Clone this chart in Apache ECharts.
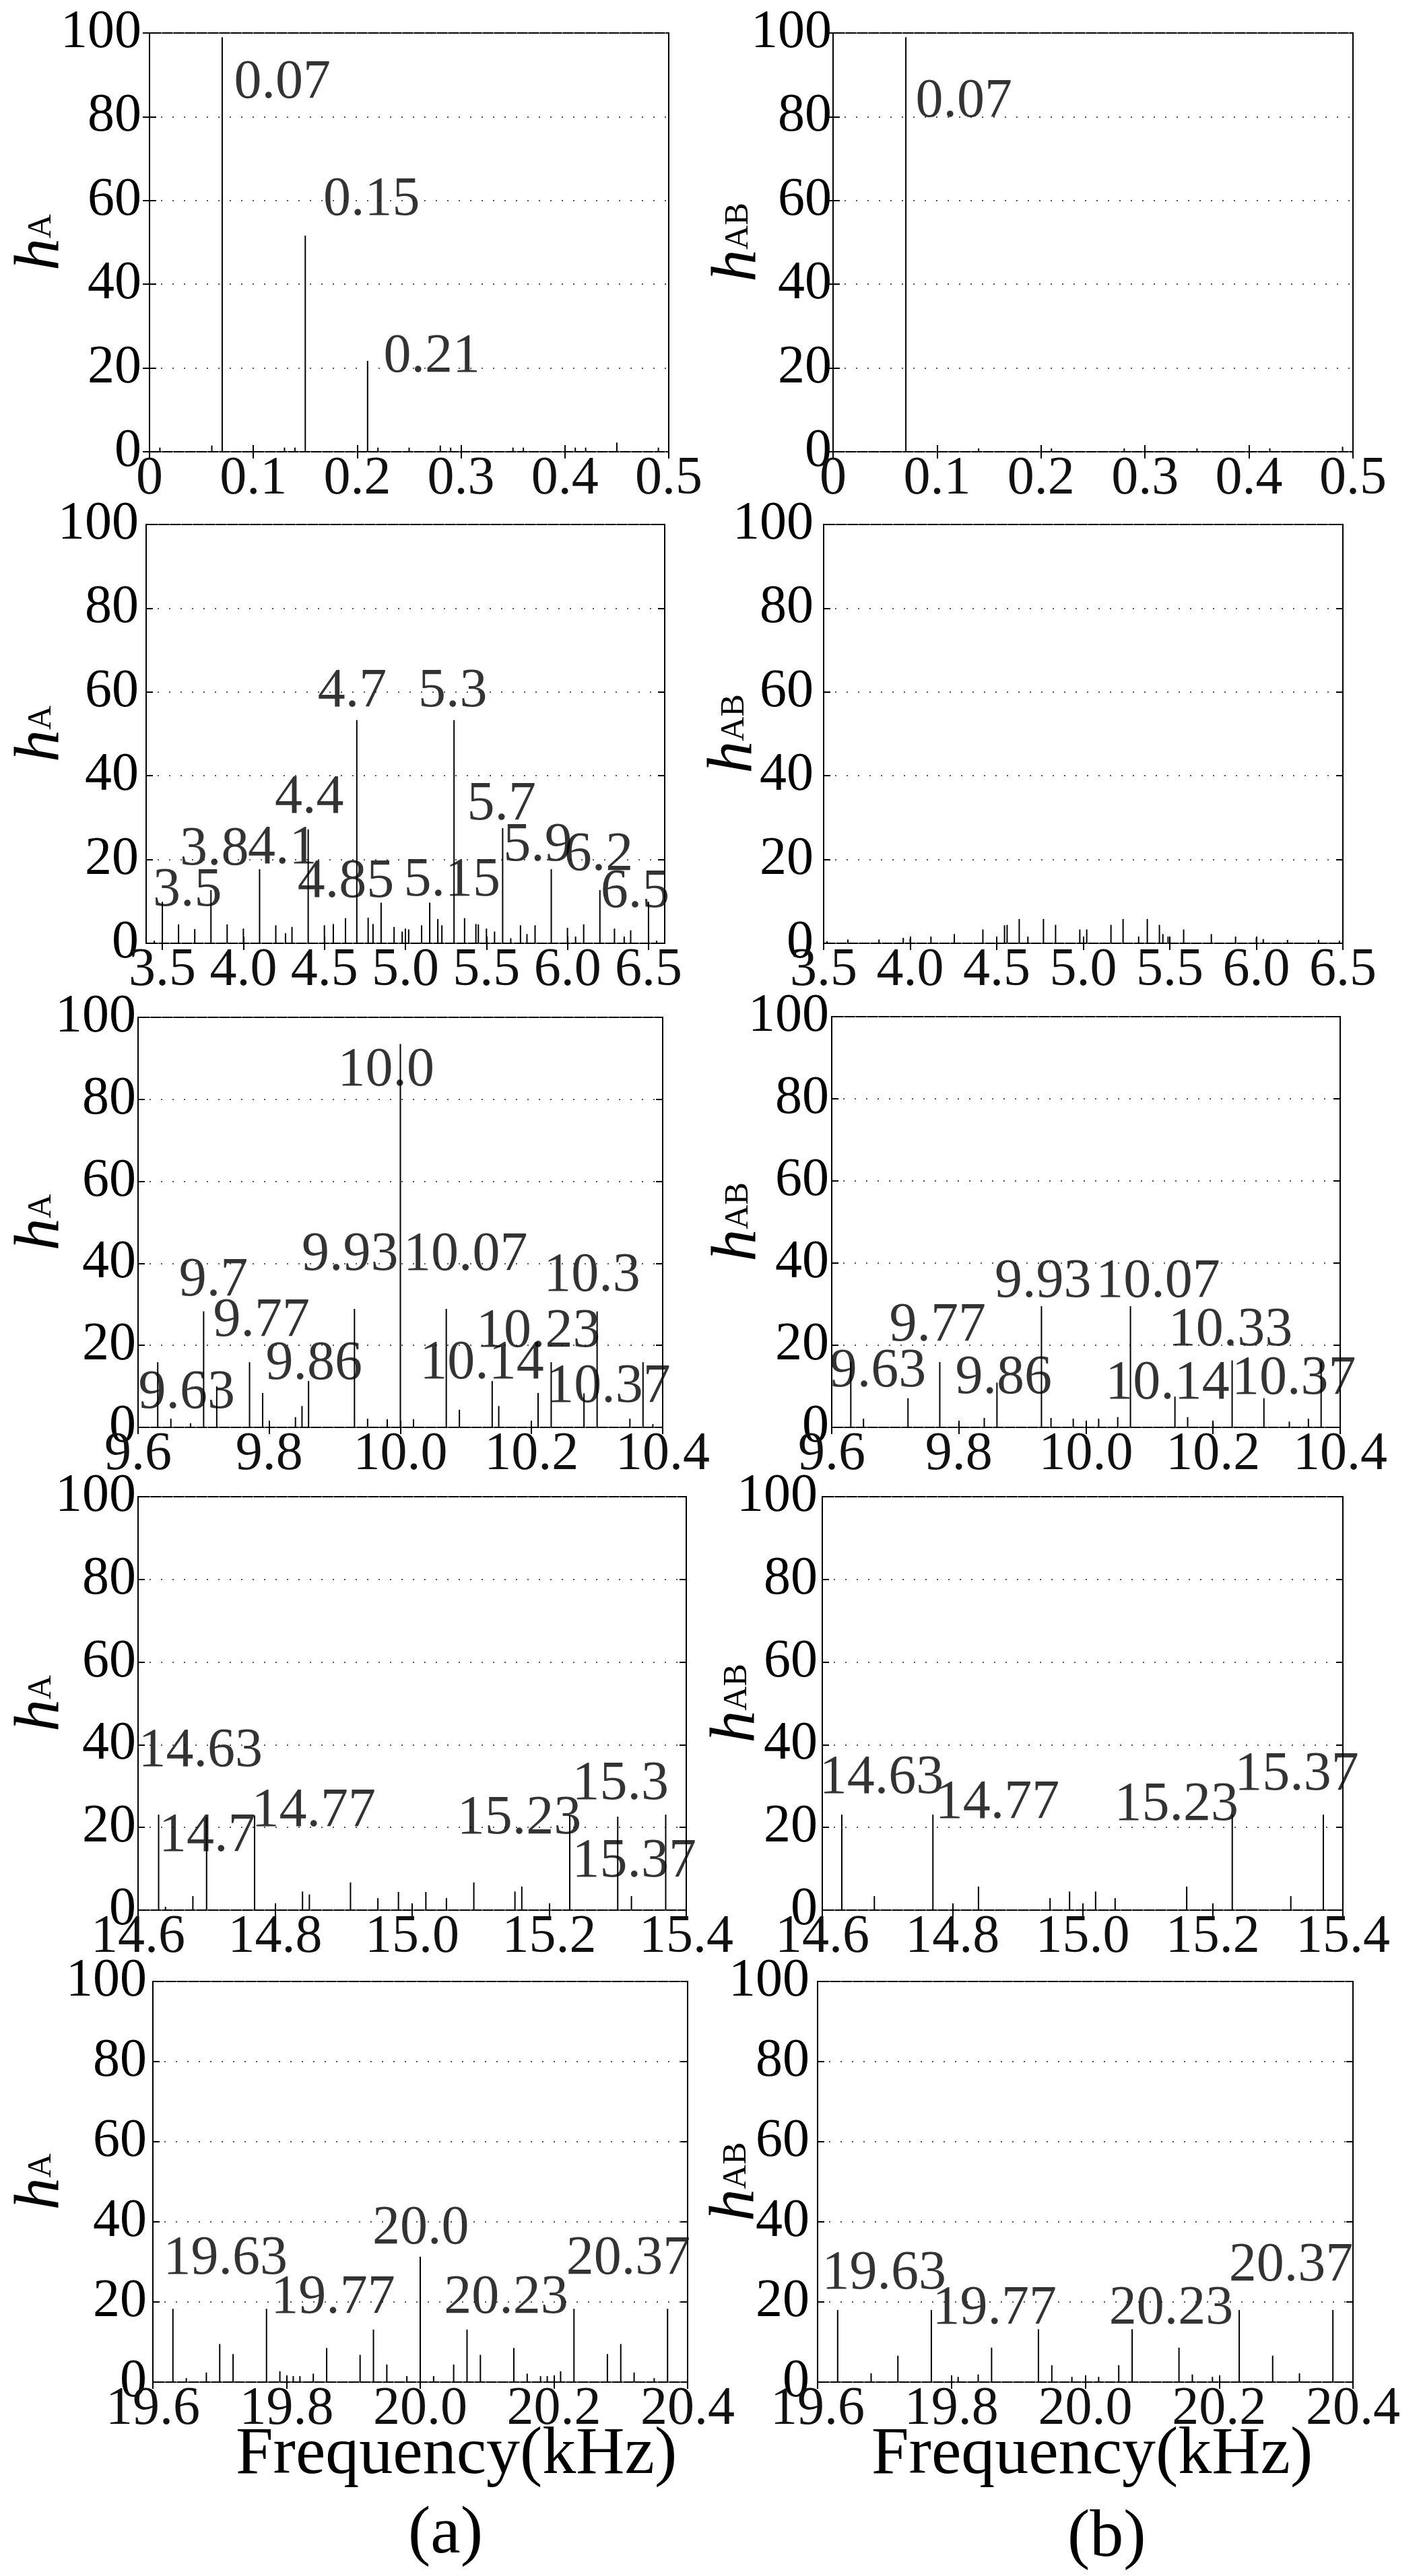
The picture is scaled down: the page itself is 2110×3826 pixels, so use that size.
<!DOCTYPE html>
<html>
<head>
<meta charset="utf-8">
<script src="https://cdn.jsdelivr.net/npm/echarts@6/dist/echarts.min.js"></script>
<style>
html,body{margin:0;padding:0;background:#fff;overflow:hidden;}
#chart{width:2110px;height:3826px;}
</style>
</head>
<body>
<div id="chart"></div>
<script>
// ---------------- DATA ----------------
// x tick values and labels per row
const ticksRow1 = [0, 0.1, 0.2, 0.3, 0.4, 0.5];
const tickLabelsRow1 = ['0', '0.1', '0.2', '0.3', '0.4', '0.5'];
const ticksRow2 = [3.5, 4.0, 4.5, 5.0, 5.5, 6.0, 6.5];
const tickLabelsRow2 = ['3.5', '4.0', '4.5', '5.0', '5.5', '6.0', '6.5'];
const ticksRow3 = [9.6, 9.8, 10.0, 10.2, 10.4];
const tickLabelsRow3 = ['9.6', '9.8', '10.0', '10.2', '10.4'];
const ticksRow4 = [14.6, 14.8, 15.0, 15.2, 15.4];
const tickLabelsRow4 = ['14.6', '14.8', '15.0', '15.2', '15.4'];
const ticksRow5 = [19.6, 19.8, 20.0, 20.2, 20.4];
const tickLabelsRow5 = ['19.6', '19.8', '20.0', '20.2', '20.4'];
const yTicks = [0, 20, 40, 60, 80, 100];

// (a) h_A spectra
const a1Freq = [0.01, 0.06, 0.07, 0.13, 0.14, 0.15, 0.21, 0.22, 0.25, 0.28, 0.29, 0.35, 0.36, 0.41, 0.42, 0.45, 0.49];
const a1Amp  = [1, 1.5, 99, 1, 1, 51.6, 21.7, 1, 1, 1.5, 1, 1, 1, 1, 1, 2.2, 1];
const a2Freq = [3.45, 3.5, 3.6, 3.7, 3.8, 3.9, 4.0, 4.1, 4.2, 4.26, 4.3, 4.4, 4.5, 4.555, 4.63, 4.7, 4.77, 4.8, 4.85, 4.93, 4.98, 5.0, 5.02, 5.1, 5.15, 5.2, 5.225, 5.3, 5.365, 5.435, 5.45, 5.5, 5.55, 5.6, 5.65, 5.71, 5.75, 5.8, 5.9, 6.0, 6.05, 6.1, 6.2, 6.29, 6.35, 6.39, 6.5, 6.55];
const a2Amp  = [0.6, 9.9, 4.5, 3.4, 12.7, 4.5, 3.5, 17.7, 4.3, 2.4, 3.9, 27.2, 4.3, 4.6, 6.0, 53.3, 6.1, 4.6, 9.7, 3.9, 2.8, 3.5, 3.3, 4.3, 9.7, 5.8, 4.3, 53.3, 6.0, 4.6, 4.5, 3.5, 2.8, 27.5, 1.2, 4.3, 2.2, 4.3, 17.7, 3.7, 1.6, 4.5, 12.7, 3.5, 1.6, 3.1, 9.9, 0.6];
const a3Freq = [9.63, 9.65, 9.68, 9.70, 9.72, 9.77, 9.79, 9.84, 9.85, 9.86, 9.93, 9.95, 9.98, 10.0, 10.02, 10.07, 10.09, 10.14, 10.15, 10.21, 10.23, 10.28, 10.30, 10.35, 10.37, 10.385];
const a3Amp  = [15.9, 2.1, 1.0, 28.3, 10.0, 15.9, 8.4, 2.5, 5.2, 11.3, 28.9, 2.1, 2.0, 93.5, 2.0, 28.9, 4.3, 11.3, 5.2, 8.4, 15.9, 8.3, 28.3, 2.1, 15.9, 0.8];
const a4Freq = [14.63, 14.64, 14.68, 14.70, 14.77, 14.84, 14.85, 14.91, 14.95, 14.98, 15.02, 15.05, 15.09, 15.15, 15.16, 15.23, 15.30, 15.32, 15.37];
const a4Amp  = [23.1, 0.8, 3.4, 22.6, 22.9, 4.5, 3.8, 6.7, 2.9, 4.4, 4.4, 2.9, 6.7, 4.5, 5.7, 22.9, 22.6, 3.4, 23.1];
const a5Freq = [19.63, 19.65, 19.68, 19.70, 19.72, 19.77, 19.79, 19.81, 19.82, 19.84, 19.86, 19.91, 19.93, 19.95, 19.98, 20.0, 20.02, 20.05, 20.07, 20.09, 20.14, 20.16, 20.18, 20.19, 20.21, 20.23, 20.28, 20.30, 20.32, 20.35, 20.37];
const a5Amp  = [18.3, 1.0, 2.4, 9.5, 7.0, 18.3, 2.7, 1.5, 1.5, 2.1, 8.5, 6.8, 13.1, 4.4, 1.5, 31.3, 1.5, 4.4, 13.1, 6.8, 8.5, 2.1, 1.5, 1.5, 2.7, 18.3, 7.0, 9.5, 2.4, 1.0, 18.3];

// (b) h_AB spectra
const b1Freq = [0.07, 0.14, 0.21, 0.28, 0.35, 0.42, 0.49];
const b1Amp  = [99, 0.8, 0.8, 0.8, 0.8, 0.8, 1.2];
const b2Freq = [3.52, 3.64, 3.82, 3.96, 4.0, 4.12, 4.255, 4.42, 4.5, 4.545, 4.56, 4.63, 4.68, 4.77, 4.84, 4.98, 5.02, 5.16, 5.23, 5.32, 5.37, 5.44, 5.46, 5.49, 5.58, 5.74, 5.88, 6.0, 6.04, 6.18, 6.36, 6.48];
const b2Amp  = [0.5, 0.9, 0.9, 1.3, 1.1, 1.6, 2.2, 3.3, 1.0, 4.3, 4.4, 5.8, 1.6, 5.8, 4.4, 3.3, 3.3, 4.4, 5.8, 1.6, 5.8, 4.4, 2.2, 1.6, 3.3, 2.2, 1.6, 1.3, 1.0, 0.8, 0.8, 0.6];
const b3Freq = [9.63, 9.65, 9.72, 9.77, 9.80, 9.84, 9.86, 9.93, 9.945, 9.98, 10.02, 10.05, 10.07, 10.14, 10.16, 10.20, 10.23, 10.28, 10.32, 10.35, 10.37];
const b3Amp  = [15.9, 2.1, 7.1, 15.9, 1.0, 2.3, 10.9, 29.5, 2.3, 2.1, 2.1, 2.5, 29.5, 7.5, 2.5, 1.0, 16.3, 7.1, 1.4, 2.1, 15.9];
const b4Freq = [14.63, 14.68, 14.77, 14.84, 14.95, 14.98, 15.02, 15.05, 15.16, 15.23, 15.32, 15.37];
const b4Amp  = [23.1, 3.4, 23.1, 5.7, 2.9, 4.5, 4.5, 2.9, 5.7, 23.1, 3.4, 23.1];
const b5Freq = [19.63, 19.68, 19.72, 19.77, 19.81, 19.84, 19.86, 19.93, 19.95, 19.98, 20.02, 20.05, 20.07, 20.14, 20.16, 20.19, 20.23, 20.28, 20.32, 20.37];
const b5Amp  = [18.0, 2.2, 6.6, 18.0, 1.3, 1.9, 8.6, 13.2, 4.2, 1.3, 1.3, 4.2, 13.2, 8.6, 1.9, 1.3, 18.0, 6.6, 2.2, 18.0];

// peak annotations: [text, x (left edge), y (centre)] in data units
const a1Notes = [['0.07', 0.081, 88], ['0.15', 0.167, 60], ['0.21', 0.225, 22.6]];
const b1Notes = [['0.07', 0.079, 83.5]];
const a2Notes = [['3.5', 3.439, 12.5], ['3.8', 3.606, 22.2], ['4.1', 4.025, 22.6], ['4.4', 4.192, 34.6], ['4.7', 4.457, 60], ['4.85', 4.332, 14.5], ['5.15', 4.988, 14.9], ['5.3', 5.077, 60.1], ['5.7', 5.378, 33], ['5.9', 5.602, 23.3], ['6.2', 5.978, 21], ['6.5', 6.202, 12.1]];
const b2Notes = [];
const a3Notes = [['9.63', 9.6, 8.3], ['9.7', 9.662, 35.8], ['9.77', 9.714, 25.8], ['9.86', 9.794, 15.3], ['9.93', 9.849, 41.9], ['10.0', 9.904, 87], ['10.07', 10.004, 41.9], ['10.3', 10.218, 36.9], ['10.23', 10.115, 23.2], ['10.14', 10.029, 15.5], ['10.37', 10.222, 9.8]];
const b3Notes = [['9.63', 9.596, 13.6], ['9.77', 9.69, 24.7], ['9.86', 9.794, 11.9], ['9.93', 9.856, 35.3], ['10.07', 10.015, 35.3], ['10.33', 10.129, 23.5], ['10.14', 10.03, 10.5], ['10.37', 10.229, 11.7]];
const a4Notes = [['14.63', 14.6, 38.3], ['14.7', 14.63, 17.8], ['14.77', 14.765, 23.9], ['15.23', 15.065, 22], ['15.3', 15.233, 30.3], ['15.37', 15.233, 11.7]];
const b4Notes = [['14.63', 14.595, 31.8], ['14.77', 14.773, 25.8], ['15.23', 15.048, 25.4], ['15.37', 15.233, 32.6]];
const a5Notes = [['19.63', 19.615, 30.6], ['19.77', 19.776, 20.9], ['20.0', 19.928, 38.3], ['20.23', 20.035, 20.9], ['20.37', 20.218, 30.6]];
const b5Notes = [['19.63', 19.606, 27], ['19.77', 19.771, 18.3], ['20.23', 20.035, 18.3], ['20.37', 20.214, 29]];

// ---------------- LAYOUT ----------------
const FONT = '"Liberation Serif", "Times New Roman", serif';
const TICK_FS = 80, NOTE_FS = 82;
const panels = [
  {freq:a1Freq, amp:a1Amp, notes:a1Notes, ticks:ticksRow1, labels:tickLabelsRow1, min:0, max:0.5, sub:'A', grid:[222,49,771,622], ym:12, gap:112},
  {freq:b1Freq, amp:b1Amp, notes:b1Notes, ticks:ticksRow1, labels:tickLabelsRow1, min:0, max:0.5, sub:'AB', grid:[1237,49,772,622], ym:2, gap:92},
  {freq:a2Freq, amp:a2Amp, notes:a2Notes, ticks:ticksRow2, labels:tickLabelsRow2, min:3.4, max:6.6, sub:'A', grid:[217,779,770,622], ym:11, gap:107},
  {freq:b2Freq, amp:b2Amp, notes:b2Notes, ticks:ticksRow2, labels:tickLabelsRow2, min:3.5, max:6.5, sub:'AB', grid:[1223,779,771,622], ym:15, gap:84},
  {freq:a3Freq, amp:a3Amp, notes:a3Notes, ticks:ticksRow3, labels:tickLabelsRow3, min:9.6, max:10.4, sub:'A', grid:[205,1511,779,609], ym:3, gap:95},
  {freq:b3Freq, amp:b3Amp, notes:b3Notes, ticks:ticksRow3, labels:tickLabelsRow3, min:9.6, max:10.4, sub:'AB', grid:[1235,1510,755,610], ym:4, gap:90},
  {freq:a4Freq, amp:a4Amp, notes:a4Notes, ticks:ticksRow4, labels:tickLabelsRow4, min:14.6, max:15.4, sub:'A', grid:[205,2223,814,614], ym:3, gap:95},
  {freq:b4Freq, amp:b4Amp, notes:b4Notes, ticks:ticksRow4, labels:tickLabelsRow4, min:14.6, max:15.4, sub:'AB', grid:[1221,2223,773,614], ym:7, gap:78},
  {freq:a5Freq, amp:a5Amp, notes:a5Notes, ticks:ticksRow5, labels:tickLabelsRow5, min:19.6, max:20.4, sub:'A', grid:[227,2943,794,595], ym:9, gap:117},
  {freq:b5Freq, amp:b5Amp, notes:b5Notes, ticks:ticksRow5, labels:tickLabelsRow5, min:19.6, max:20.4, sub:'AB', grid:[1214,2943,795,595], ym:12, gap:72}
];

const grids = [], xAxes = [], yAxes = [], series = [];
panels.forEach((p, i) => {
  grids.push({left:p.grid[0], top:p.grid[1], width:p.grid[2], height:p.grid[3], show:true, borderColor:'#000', borderWidth:2, backgroundColor:'#fff', containLabel:false});
  const fmt = v => { const k = p.ticks.findIndex(t => Math.abs(t - v) < 1e-6); return k >= 0 ? p.labels[k] : ''; };
  xAxes.push({gridIndex:i, type:'value', min:p.min, max:p.max, position:'bottom',
    axisLine:{show:false}, splitLine:{show:false},
    axisTick:{show:true, inside:true, length:10, customValues:p.ticks, lineStyle:{color:'#000', width:2}},
    axisLabel:{show:true, customValues:p.ticks, formatter:fmt, margin:1, fontFamily:FONT, fontSize:TICK_FS, color:'#111', hideOverlap:false, showMinLabel:true, showMaxLabel:true}});
  xAxes.push({gridIndex:i, type:'value', min:p.min, max:p.max, position:'top',
    axisLine:{show:false}, splitLine:{show:false}, axisLabel:{show:false},
    axisTick:{show:true, inside:true, length:10, customValues:p.ticks, lineStyle:{color:'#000', width:2}}});
  yAxes.push({gridIndex:i, type:'value', min:0, max:100, interval:20, position:'left',
    name:'{h|h}{s|' + p.sub + '}', nameLocation:'middle', nameGap:p.gap, nameRotate:90, nameMoveOverlap:false,
    nameTextStyle:{rich:{h:{fontFamily:FONT, fontStyle:'italic', fontSize:96, color:'#000'}, s:{fontFamily:FONT, fontSize:50, color:'#000'}}},
    axisLine:{show:false},
    axisTick:{show:true, inside:true, length:10, lineStyle:{color:'#000', width:2}},
    axisLabel:{margin:p.ym, fontFamily:FONT, fontSize:TICK_FS, color:'#000'},
    splitLine:{show:true, lineStyle:{color:'#555', width:2, type:[2, 15]}}});
  yAxes.push({gridIndex:i, type:'value', min:0, max:100, interval:20, position:'right',
    axisLine:{show:false}, axisLabel:{show:false}, splitLine:{show:false},
    axisTick:{show:true, inside:true, length:10, lineStyle:{color:'#000', width:2}}});
  series.push({type:'bar', xAxisIndex:2*i, yAxisIndex:2*i, barWidth:2, silent:true,
    itemStyle:{color:'#000'}, data:p.freq.map((f, k) => [f, p.amp[k]])});
  series.push({type:'scatter', xAxisIndex:2*i, yAxisIndex:2*i, symbol:'circle', symbolSize:1, silent:true, z:5, clip:false,
    itemStyle:{color:'rgba(0,0,0,0)'},
    label:{show:true, position:'right', distance:0, formatter:d => d.name, fontFamily:FONT, fontSize:NOTE_FS, color:'#000'},
    labelLayout:{hideOverlap:false},
    data:p.notes.map(n => ({name:n[0], value:[n[1], n[2]]}))});
});

const chart = echarts.init(document.getElementById('chart'), null, {renderer:'canvas', width:2110, height:3826});
chart.setOption({
  animation:false,
  backgroundColor:'#fff',
  grid:grids, xAxis:xAxes, yAxis:yAxes, series:series,
  graphic:[
    {type:'text', left:676 - 326, top:3597, style:{text:'Frequency(kHz)', font:'100px ' + FONT, fill:'#000'}},
    {type:'text', left:1620 - 326, top:3597, style:{text:'Frequency(kHz)', font:'100px ' + FONT, fill:'#000'}},
    {type:'text', left:606, top:3715, style:{text:'(a)', font:'100px ' + FONT, fill:'#000'}},
    {type:'text', left:1585, top:3720, style:{text:'(b)', font:'100px ' + FONT, fill:'#000'}}
  ]
});
</script>
</body>
</html>
